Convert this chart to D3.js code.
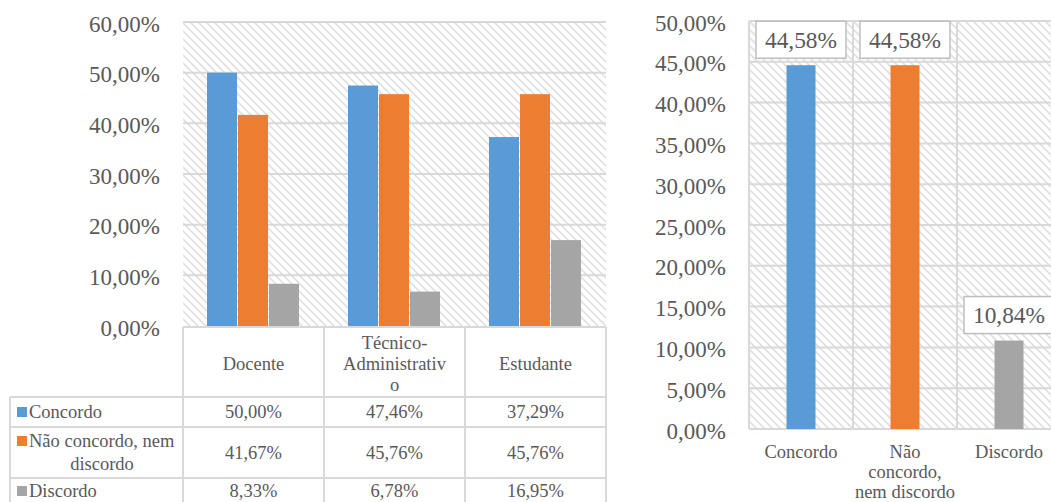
<!DOCTYPE html>
<html>
<head>
<meta charset="utf-8">
<script src="https://cdn.jsdelivr.net/npm/d3@7"></script>
<style>
  body { margin: 0; background: #fff; }
  svg text { fill: #595959; }
</style>
</head>
<body>
<script>
// dados
const groups = ['Docente', 'Técnico-Administrativo', 'Estudante']
const groupLines = [['Docente'], ['Técnico-', 'Administrativ', 'o'], ['Estudante']]
const series = ['Concordo', 'Não concordo, nem discordo', 'Discordo']
const seriesLines = [['Concordo'], ['Não concordo, nem', 'discordo'], ['Discordo']]
const concordo = [50.00, 47.46, 37.29]
const naoConcordo = [41.67, 45.76, 45.76]
const discordo = [8.33, 6.78, 16.95]
const leftTicks = [0, 10, 20, 30, 40, 50, 60]

const totalCats = ['Concordo', 'Não concordo, nem discordo', 'Discordo']
const totalLines = [['Concordo'], ['Não', 'concordo,', 'nem discordo'], ['Discordo']]
const totalValues = [44.58, 44.58, 10.84]
const rightTicks = [0, 5, 10, 15, 20, 25, 30, 35, 40, 45, 50]

const colors = ['#5b9bd5', '#ed7d31', '#a5a5a5']
const grid = '#d9d9d9'
const serif = "'Liberation Serif', 'Times New Roman', 'Tinos', 'Noto Serif', 'DejaVu Serif', serif"
const fmt = v => v.toFixed(2).replace('.', ',') + '%'

// ajusta o tamanho da fonte pela largura medida no original
const ctx = document.createElement('canvas').getContext('2d')
function fit (txt, target) {
  ctx.font = '100px ' + serif
  return (100 * target / ctx.measureText(txt).width).toFixed(1) + 'px'
}
const tickSize = fit('60,00%', 71)
const labelSize = fit('44,58%', 72)
const catSize = fit('Concordo', 73)

let width = 1051
let height = 502

let svg = d3.select('body')
  .append('svg')
  .attr('width', width)
  .attr('height', height)
  .attr('font-family', serif)

// hachura diagonal
svg.append('defs').append('pattern')
  .attr('id', 'hatch')
  .attr('patternUnits', 'userSpaceOnUse')
  .attr('width', 8)
  .attr('height', 8)
  .selectAll('path')
  .data(['M-2,-2L10,10', 'M-2,6L2,10', 'M6,-2L10,2'])
  .join('path')
  .attr('d', d => d)
  .attr('stroke', '#e1e1e1')
  .attr('stroke-width', 1.8)

// ---------- grafico da esquerda ----------
const values = [concordo, naoConcordo, discordo]
let x0 = d3.scaleBand().domain(groups).range([183, 606])
let x1 = d3.scaleBand().domain(series).range([0, 93])
let y = d3.scaleLinear().domain([0, 60]).range([326, 22])
let off = (x0.bandwidth() - 93) / 2

let left = svg.append('g')
left.append('rect')
  .attr('x', 183).attr('y', y(60))
  .attr('width', 606 - 183).attr('height', y(0) - y(60))
  .attr('fill', 'url(#hatch)')

left.selectAll('line.grid')
  .data(leftTicks.filter(t => t > 0))
  .join('line')
  .attr('x1', 183).attr('x2', 606)
  .attr('y1', d => y(d)).attr('y2', d => y(d))
  .attr('stroke', grid).attr('stroke-width', 2)

left.selectAll('text.tick')
  .data(leftTicks)
  .join('text')
  .attr('x', 160).attr('y', d => y(d) + 2)
  .attr('text-anchor', 'end')
  .attr('dominant-baseline', 'central')
  .style('font-size', tickSize)
  .text(d => fmt(d))

series.forEach((s, si) => {
  left.selectAll('rect.s' + si)
    .data(values[si])
    .join('rect')
    .attr('x', (d, i) => x0(groups[i]) + off + x1(s))
    .attr('width', x1.bandwidth() - 1)
    .attr('y', d => y(d))
    .attr('height', d => y(0) - y(d))
    .attr('fill', colors[si])
})

// tabela de dados
const rowY = [327, 397, 427, 478, 504]
const colX = [183, 324, 465, 606]
let tbl = svg.append('g').attr('stroke', grid).attr('stroke-width', 2)
tbl.append('line').attr('x1', 183).attr('x2', 606).attr('y1', 327).attr('y2', 327)
rowY.slice(1).forEach(ry => {
  tbl.append('line').attr('x1', 10).attr('x2', 606).attr('y1', ry).attr('y2', ry)
})
colX.forEach(cx => {
  tbl.append('line').attr('x1', cx).attr('x2', cx).attr('y1', 327).attr('y2', 504)
})
tbl.append('line').attr('x1', 10).attr('x2', 10).attr('y1', 397).attr('y2', 504)

groups.forEach((g, i) => {
  let lines = groupLines[i]
  let cy = 364 - (lines.length - 1) * 10.5
  svg.append('text')
    .attr('x', x0(g) + x0.bandwidth() / 2)
    .attr('text-anchor', 'middle')
    .style('font-size', catSize)
    .selectAll('tspan')
    .data(lines)
    .join('tspan')
    .attr('x', x0(g) + x0.bandwidth() / 2)
    .attr('y', (d, k) => cy + k * 21 + 6)
    .text(d => d)
})

const rowCenters = [412, 452.5, 491]
series.forEach((s, si) => {
  let cy = rowCenters[si]
  let lines = seriesLines[si]
  let top = cy - (lines.length - 1) * 11.5
  svg.append('rect')
    .attr('x', 17).attr('y', top - 5)
    .attr('width', 10).attr('height', 10)
    .attr('fill', colors[si])
  lines.forEach((ln, k) => {
    svg.append('text')
      .attr('x', k === 0 ? 29 : 102)
      .attr('y', top + k * 23 + 6)
      .attr('text-anchor', k === 0 ? 'start' : 'middle')
      .style('font-size', catSize)
      .text(ln)
  })
  values[si].forEach((v, i) => {
    svg.append('text')
      .attr('x', x0(groups[i]) + x0.bandwidth() / 2)
      .attr('y', cy + 6)
      .attr('text-anchor', 'middle')
      .style('font-size', catSize)
      .text(fmt(v))
  })
})

// ---------- grafico da direita ----------
let xr = d3.scaleBand().domain(totalCats).range([749, 1061])
let yr = d3.scaleLinear().domain([0, 50]).range([429, 21])
let right = svg.append('g')

right.append('rect')
  .attr('x', 749).attr('y', yr(50))
  .attr('width', 1061 - 749).attr('height', yr(0) - yr(50))
  .attr('fill', 'url(#hatch)')

right.selectAll('line.h')
  .data(rightTicks)
  .join('line')
  .attr('x1', 749).attr('x2', 1061)
  .attr('y1', d => yr(d)).attr('y2', d => yr(d))
  .attr('stroke', grid).attr('stroke-width', 2)

right.selectAll('line.v')
  .data(totalCats)
  .join('line')
  .attr('x1', d => xr(d)).attr('x2', d => xr(d))
  .attr('y1', yr(50)).attr('y2', yr(0))
  .attr('stroke', grid).attr('stroke-width', 2)

right.selectAll('text.tick')
  .data(rightTicks)
  .join('text')
  .attr('x', 726).attr('y', d => yr(d) + 2)
  .attr('text-anchor', 'end')
  .attr('dominant-baseline', 'central')
  .style('font-size', tickSize)
  .text(d => fmt(d))

const bw = 29
right.selectAll('rect.bar')
  .data(totalValues)
  .join('rect')
  .attr('x', (d, i) => xr(totalCats[i]) + xr.bandwidth() / 2 - bw / 2)
  .attr('width', bw)
  .attr('y', d => yr(d))
  .attr('height', d => yr(0) - yr(d))
  .attr('fill', (d, i) => colors[i])

totalValues.forEach((v, i) => {
  let cx = xr(totalCats[i]) + xr.bandwidth() / 2
  let by = yr(v) - 7
  right.append('rect')
    .attr('x', cx - 45).attr('y', by - 37)
    .attr('width', 90).attr('height', 37)
    .attr('fill', '#fff')
    .attr('stroke', '#bfbfbf').attr('stroke-width', 1.5)
  right.append('text')
    .attr('x', cx).attr('y', by - 18.5)
    .attr('text-anchor', 'middle')
    .attr('dominant-baseline', 'central')
    .style('font-size', labelSize)
    .text(fmt(v))
})

totalCats.forEach((c, i) => {
  right.append('text')
    .attr('text-anchor', 'middle')
    .style('font-size', catSize)
    .selectAll('tspan')
    .data(totalLines[i])
    .join('tspan')
    .attr('x', xr(c) + xr.bandwidth() / 2)
    .attr('y', (d, k) => 458 + k * 20)
    .text(d => d)
})
</script>
</body>
</html>
